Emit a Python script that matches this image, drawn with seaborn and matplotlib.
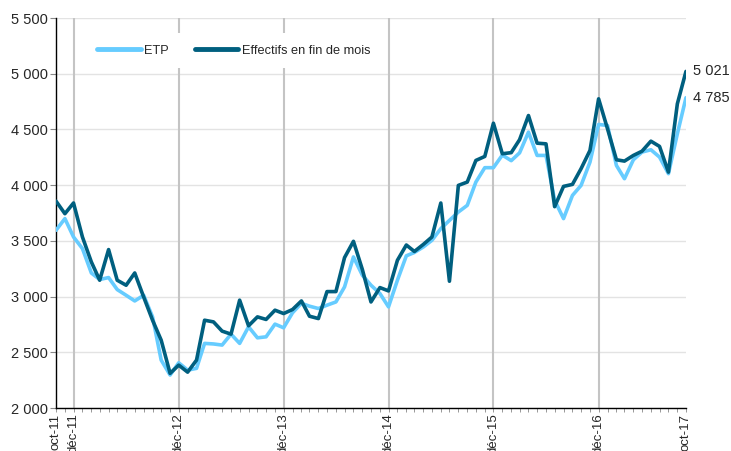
import pandas as pd
import matplotlib
matplotlib.use("Agg")
import matplotlib.pyplot as plt
import matplotlib.dates as mdates
import matplotlib.ticker as mticker
import seaborn as sns

# Monthly series, oct-11 .. oct-17
months = pd.date_range("2011-10-01", periods=73, freq="MS")

etp = [3595, 3700, 3535, 3431, 3212, 3153, 3171, 3063, 3012, 2961, 3012, 2818,
       2430, 2296, 2406, 2340, 2356, 2580, 2575, 2565, 2663, 2580, 2729, 2630,
       2639, 2753, 2720, 2855, 2940, 2914, 2893, 2923, 2952, 3087, 3356, 3192,
       3102, 3028, 2908, 3147, 3366, 3396, 3445, 3505, 3610, 3684, 3759, 3819,
       4028, 4157, 4157, 4270, 4220, 4290, 4476, 4267, 4267, 3864, 3700, 3908,
       3998, 4207, 4545, 4536, 4177, 4058, 4228, 4297, 4318, 4252, 4103, 4461,
       4785]

effectifs = [3857, 3744, 3840, 3535, 3311, 3147, 3422, 3147, 3102, 3212, 2997, 2788,
             2609, 2311, 2385, 2322, 2430, 2788, 2773, 2690, 2663, 2968, 2738, 2818,
             2795, 2878, 2848, 2884, 2961, 2824, 2803, 3045, 3045, 3350, 3496, 3243,
             2952, 3081, 3051, 3326, 3463, 3405, 3468, 3535, 3840, 3138, 3998, 4028,
             4222, 4258, 4556, 4282, 4292, 4408, 4625, 4377, 4371, 3807, 3989, 4007,
             4148, 4312, 4775, 4506, 4228, 4216, 4267, 4305, 4395, 4348, 4117, 4730,
             5021]

series_names = ["ETP", "Effectifs en fin de mois"]
series_colors = ["#66ccff", "#005f7f"]

tick_dates = ["2011-10-01", "2011-12-01", "2012-12-01", "2013-12-01",
              "2014-12-01", "2015-12-01", "2016-12-01", "2017-10-01"]
tick_labels = ["oct-11", "déc-11", "déc-12", "déc-13", "déc-14", "déc-15", "déc-16", "oct-17"]
grid_dates = tick_dates[1:-1]

df = pd.DataFrame({"mois": list(months) * 2,
                   "valeur": etp + effectifs,
                   "serie": [series_names[0]] * len(etp) + [series_names[1]] * len(effectifs)})

sns.set_theme(style="white")
plt.rcParams["font.family"] = ["Liberation Sans", "DejaVu Sans"]

fig = plt.figure(figsize=(7.31, 4.51), dpi=100)
ax = fig.add_axes([0.0766, 0.0953, 0.8618, 0.8647])

# grid lines
for v in range(2000, 5501, 500):
    ax.axhline(v, color="#e3e3e3", linewidth=1.0, zorder=0)
for d in grid_dates:
    ax.axvline(pd.Timestamp(d), color="#c4c4c4", linewidth=1.5, zorder=0)

sns.lineplot(data=df, x="mois", y="valeur", hue="serie", hue_order=series_names,
             palette=series_colors, linewidth=2.6, ax=ax, zorder=3)
# dark line a bit thicker
for line, lw in zip(ax.get_lines()[-2:], [2.6, 2.9]):
    line.set_linewidth(lw)

ax.set_xlim(months[0], months[-1])
ax.set_ylim(2000, 5500)
ax.yaxis.set_major_locator(mticker.MultipleLocator(500))
ax.yaxis.set_major_formatter(mticker.FuncFormatter(lambda v, p: f"{int(v):,}".replace(",", " ")))

ax.set_xticks([pd.Timestamp(d) for d in tick_dates])
ax.set_xticklabels(tick_labels, rotation=90, fontsize=9.5)
ax.xaxis.set_minor_locator(mdates.MonthLocator())
ax.tick_params(axis="x", which="both", direction="out", length=3, width=0.6, color="#888888", bottom=True, pad=1)
ax.tick_params(axis="y", which="major", direction="out", length=4, width=0.8, color="#888888", left=True, labelsize=10.5, pad=2)
for lab in ax.get_xticklabels():
    lab.set_verticalalignment("top")

ax.set_xlabel("")
ax.set_ylabel("")
for s in ["top", "right"]:
    ax.spines[s].set_visible(False)
for s in ["left", "bottom"]:
    ax.spines[s].set_color("black")
    ax.spines[s].set_linewidth(1.0)

# end labels
ax.annotate("5 021", (months[-1], effectifs[-1]), xytext=(5, 0), textcoords="offset points",
            va="center", ha="left", fontsize=10.5, annotation_clip=False)
ax.annotate("4 785", (months[-1], etp[-1]), xytext=(5, 0), textcoords="offset points",
            va="center", ha="left", fontsize=10.5, annotation_clip=False)

leg = ax.legend(loc="upper left", bbox_to_anchor=(0.037, 0.977), ncol=2, frameon=True,
                facecolor="white", edgecolor="none", framealpha=1, fontsize=9.2,
                handlelength=3.4, handletextpad=0.3, columnspacing=2.0, borderpad=0.9)
for h in leg.get_lines():
    h.set_linewidth(3.5)
    h.set_solid_capstyle("round")

fig.savefig("out.png", dpi=100)
